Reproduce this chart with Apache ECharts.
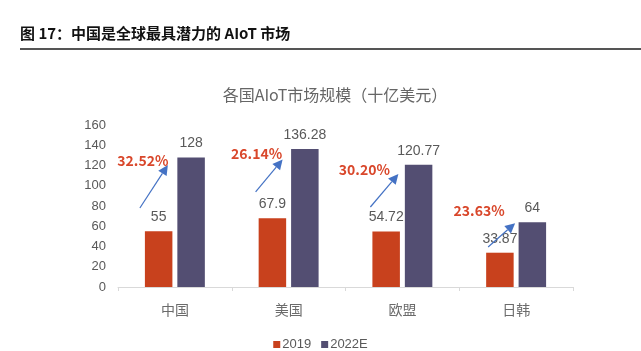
<!DOCTYPE html>
<html>
<head>
<meta charset="utf-8">
<script src="https://cdn.jsdelivr.net/npm/echarts@6/dist/echarts.min.js"></script>
<style>
  html, body { margin: 0; padding: 0; background: #fff; }
  #main { width: 641px; height: 351px; }
</style>
</head>
<body>
<div id="main"></div>
<script>
// 数据
const categories = ["中国", "美国", "欧盟", "日韩"];
const values2019 = [55, 67.9, 54.72, 33.87];
const values2022 = [128, 136.28, 120.77, 64];
const growthRates = ["32.52%", "26.14%", "30.20%", "23.63%"];
// 箭头起止点（数值轴坐标）
const arrowFrom = [78, 94, 79, 39.5];
const arrowTo = [120.5, 126, 111.6, 63];
const rateAt = [124.4, 132, 115.6, 75];

const myChart = echarts.init(document.getElementById("main"));
const font = "'Noto Sans CJK SC', 'Noto Sans', sans-serif";
const numFont = "'Liberation Sans', 'Noto Sans CJK SC', sans-serif";

const option = {
  animation: false,
  textStyle: { fontFamily: numFont },
  title: {
    text: "各国AIoT市场规模（十亿美元）",
    left: 330,
    top: 82,
    textAlign: "center",
    textStyle: { fontSize: 16, fontWeight: "normal", color: "#666", fontFamily: font },
  },
  legend: {
    top: 333,
    left: "center",
    itemWidth: 7,
    itemHeight: 7,
    itemGap: 10,
    icon: "rect",
    textStyle: { fontSize: 13, color: "#595959", padding: [0, 0, 0, -3] },
    data: ["2019", "2022E"],
  },
  grid: { left: 118, right: 68, top: 125, bottom: 64 },
  xAxis: {
    type: "category",
    data: categories,
    axisTick: { show: true, alignWithLabel: false, length: 4, lineStyle: { color: "#d9d9d9" } },
    axisLine: { lineStyle: { color: "#d9d9d9" } },
    axisLabel: { color: "#6b6b6b", fontSize: 14, margin: 16, fontFamily: font },
  },
  yAxis: {
    type: "value",
    min: 0,
    max: 160,
    interval: 20,
    splitLine: { show: false },
    axisLine: { show: false },
    axisTick: { show: false },
    axisLabel: { color: "#595959", fontSize: 13, margin: 12 },
  },
  series: [
    {
      name: "2019",
      type: "bar",
      data: values2019,
      barWidth: 27.5,
      barGap: "18%",
      itemStyle: { color: "#C8411D" },
      label: { show: true, position: "top", distance: 7, color: "#595959", fontSize: 14 },
    },
    {
      name: "2022E",
      type: "bar",
      data: values2022,
      barWidth: 27.5,
      itemStyle: { color: "#534E72" },
      label: { show: true, position: "top", distance: 7, color: "#595959", fontSize: 14 },
    },
  ],
};
myChart.setOption(option);

// 标注：增长率 + 箭头
const fromDx = [-35, -33, -32, -28];
const toDx = [-7, -6, -4, -1];
const textDx = [-32, -32, -38, -37];
const graphics = [
  {
    type: "text",
    left: 20,
    top: 26,
    style: { text: "图 17：中国是全球最具潜力的 AIoT 市场", font: "bold 15px " + font, fill: "#111" },
  },
  {
    type: "rect",
    shape: { x: 20, y: 48, width: 621, height: 2 },
    style: { fill: "#555" },
  },
];
categories.forEach((c, i) => {
  const p0 = myChart.convertToPixel({ gridIndex: 0 }, [i, arrowFrom[i]]);
  const p1 = myChart.convertToPixel({ gridIndex: 0 }, [i, arrowTo[i]]);
  const pt = myChart.convertToPixel({ gridIndex: 0 }, [i, rateAt[i]]);
  const x0 = p0[0] + fromDx[i], y0 = p0[1];
  const x1 = p1[0] + toDx[i], y1 = p1[1];
  const ang = Math.atan2(y1 - y0, x1 - x0);
  const hl = 10, hw = 5;
  const bx = x1 - hl * Math.cos(ang), by = y1 - hl * Math.sin(ang);
  const nx = -Math.sin(ang) * hw, ny = Math.cos(ang) * hw;
  graphics.push({
    type: "line",
    shape: { x1: x0, y1: y0, x2: bx, y2: by },
    style: { stroke: "#4472C4", lineWidth: 1.2 },
    z: 10,
  });
  graphics.push({
    type: "polygon",
    shape: { points: [[x1, y1], [bx + nx, by + ny], [bx - nx, by - ny]] },
    style: { fill: "#4472C4" },
    z: 10,
  });
  graphics.push({
    type: "text",
    x: pt[0] + textDx[i],
    y: pt[1],
    style: {
      text: growthRates[i],
      font: "bold 14px " + font,
      fill: "#D9472B",
      align: "center",
      verticalAlign: "middle",
    },
    z: 11,
  });
});
myChart.setOption({ graphic: graphics });
</script>
</body>
</html>
